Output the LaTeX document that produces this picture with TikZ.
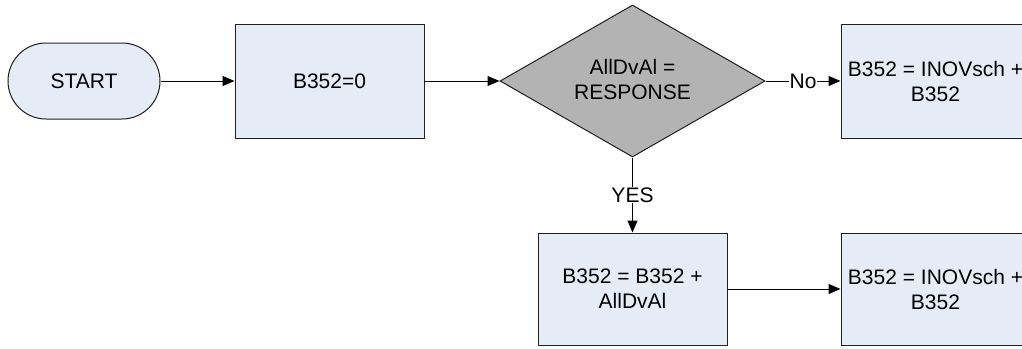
\documentclass[tikz,border=0pt]{standalone}
\usepackage{fontspec}
\setmainfont{Liberation Sans}
\usetikzlibrary{shapes.geometric,shapes.misc,arrows.meta}
\definecolor{boxfill}{HTML}{E6ECF6}
\definecolor{decfill}{HTML}{B3B3B3}
\definecolor{edge}{HTML}{202020}
\tikzset{
  every node/.style={font=\fontsize{21}{25}\selectfont, text=black},
  procbox/.style={draw=edge, line width=1pt, fill=boxfill, rectangle, align=center,
    minimum width=189pt, inner sep=0pt},
  termbox/.style={draw=edge, line width=1pt, fill=boxfill, rounded rectangle,
    minimum width=152pt, minimum height=76pt, inner sep=0pt},
  decbox/.style={draw=edge, line width=1pt, fill=decfill, diamond, aspect=1.74,
    minimum width=265pt, minimum height=152pt, inner sep=0pt, align=center},
  conn/.style={draw=black, line width=1pt, -{Triangle[length=12pt,width=10pt]}},
  lbl/.style={fill=white, inner sep=1pt}
}
\begin{document}
\begin{tikzpicture}[x=1pt,y=-1pt]
\useasboundingbox (0,0) rectangle (1022,348);
\clip (0,0) rectangle (1022,348);
\node[termbox] (start) at (84,81) {START};
\node[procbox, minimum height=114pt] (b0) at (329.5,81) {B352=0};
\node[decbox] (dec) at (632.5,81) {};
\node[align=center] (dectext) at (632.5,79) {AllDvAl =\\RESPONSE};
\node[procbox, minimum height=114pt] (no) at (935.5,81) {B352 = INOVsch +\\B352};
\node[procbox, minimum height=112pt] (yes) at (632.5,289) {B352 = B352 +\\AllDvAl};
\node[procbox, minimum height=112pt] (fin) at (935.5,289) {B352 = INOVsch +\\B352};
\draw[conn] (start.east) -- (b0.west);
\draw[conn] (b0.east) -- (dec.west);
\draw[conn] (dec.east) -- node[lbl] {No} (no.west);
\draw[conn] (dec.south) -- node[lbl] {YES} (yes.north);
\draw[conn] (yes.east) -- (fin.west);
\end{tikzpicture}
\end{document}
